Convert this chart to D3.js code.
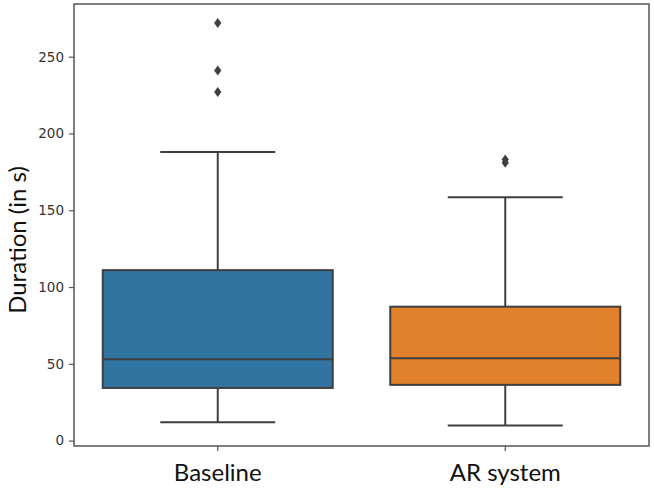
<!DOCTYPE html>
<html>
<head>
<meta charset="utf-8">
<script src="https://cdn.jsdelivr.net/npm/d3@7"></script>
<style>
  body { margin: 0; background: #fff; }
  svg { display: block; }
</style>
</head>
<body>
<svg id="chart" width="654" height="491"></svg>
<script>
// box plot summaries
const groups = ["Baseline", "AR system"];
const q1 = [34.3, 36.3];
const medians = [53.0, 53.6];
const q3 = [111, 87.2];
const whiskLow = [12.0, 9.8];
const whiskHigh = [188, 158.5];
const outliers = [[272, 241, 227], [183, 181]];
const boxColors = ["#3274a1", "#e1812c"];
const yTicks = [0, 50, 100, 150, 200, 250];

const width = 654, height = 491;
const margin = { top: 4, right: 5, bottom: 45, left: 74 };

const svg = d3.select("#chart");

const x = d3.scaleBand()
  .domain(groups)
  .range([margin.left, width - margin.right])
  .paddingInner(0)
  .paddingOuter(0);

const y = d3.scaleLinear()
  .domain([-3.5, 284.3])
  .range([height - margin.bottom, margin.top]);

const lineColor = "#3f3f3f";
const boxW = x.bandwidth() * 0.8;
const capW = boxW / 2;

const data = groups.map((g, i) => ({
  name: g, q1: q1[i], med: medians[i], q3: q3[i],
  lo: whiskLow[i], hi: whiskHigh[i], out: outliers[i], color: boxColors[i]
}));

const g = svg.selectAll(".box")
  .data(data)
  .enter()
  .append("g")
  .attr("class", "box");

const cx = d => x(d.name) + x.bandwidth() / 2;

// whiskers
g.append("line")
  .attr("x1", cx).attr("x2", cx)
  .attr("y1", d => y(d.q3)).attr("y2", d => y(d.hi))
  .attr("stroke", lineColor).attr("stroke-width", 2);
g.append("line")
  .attr("x1", cx).attr("x2", cx)
  .attr("y1", d => y(d.q1)).attr("y2", d => y(d.lo))
  .attr("stroke", lineColor).attr("stroke-width", 2);
// caps
g.append("line")
  .attr("x1", d => cx(d) - capW / 2).attr("x2", d => cx(d) + capW / 2)
  .attr("y1", d => y(d.hi)).attr("y2", d => y(d.hi))
  .attr("stroke", lineColor).attr("stroke-width", 2);
g.append("line")
  .attr("x1", d => cx(d) - capW / 2).attr("x2", d => cx(d) + capW / 2)
  .attr("y1", d => y(d.lo)).attr("y2", d => y(d.lo))
  .attr("stroke", lineColor).attr("stroke-width", 2);
// box
g.append("rect")
  .attr("x", d => cx(d) - boxW / 2)
  .attr("width", boxW)
  .attr("y", d => y(d.q3))
  .attr("height", d => y(d.q1) - y(d.q3))
  .attr("fill", d => d.color)
  .attr("stroke", lineColor).attr("stroke-width", 2);
// median
g.append("line")
  .attr("x1", d => cx(d) - boxW / 2).attr("x2", d => cx(d) + boxW / 2)
  .attr("y1", d => y(d.med)).attr("y2", d => y(d.med))
  .attr("stroke", lineColor).attr("stroke-width", 2);
// outliers (thin diamonds)
g.each(function(d) {
  d3.select(this).selectAll("path.flier")
    .data(d.out)
    .enter()
    .append("path")
    .attr("class", "flier")
    .attr("d", "M0,-5 L3.6,0 L0,5 L-3.6,0 Z")
    .attr("transform", v => `translate(${cx(d)},${y(v)})`)
    .attr("fill", lineColor);
});

// axes
const yAxis = svg.append("g")
  .attr("transform", `translate(${margin.left},0)`)
  .call(d3.axisLeft(y).tickValues(yTicks).tickSize(5).tickPadding(5));
yAxis.select(".domain").remove();
yAxis.selectAll(".tick line").attr("stroke", "#555").attr("stroke-width", 1.2);
yAxis.selectAll(".tick text")
  .attr("fill", "#333")
  .style("font-family", "DejaVu Sans")
  .style("font-size", "13.5px");

const xAxis = svg.append("g")
  .attr("transform", `translate(0,${height - margin.bottom})`)
  .call(d3.axisBottom(x).tickSize(5).tickPadding(13));
xAxis.select(".domain").remove();
xAxis.selectAll(".tick line").attr("stroke", "#555").attr("stroke-width", 1.2);
xAxis.selectAll(".tick text")
  .attr("fill", "#111")
  .style("font-family", "Lato")
  .style("font-size", "24px");

// frame
svg.append("rect")
  .attr("x", margin.left).attr("y", margin.top)
  .attr("width", width - margin.left - margin.right)
  .attr("height", height - margin.top - margin.bottom)
  .attr("fill", "none")
  .attr("stroke", "#555")
  .attr("stroke-width", 1.5);

// y label
svg.append("text")
  .attr("transform", `translate(26,${(margin.top + height - margin.bottom) / 2 + 15}) rotate(-90)`)
  .attr("text-anchor", "middle")
  .attr("fill", "#111")
  .style("font-family", "Lato")
  .style("font-size", "24px")
  .text("Duration (in s)");
</script>
</body>
</html>
